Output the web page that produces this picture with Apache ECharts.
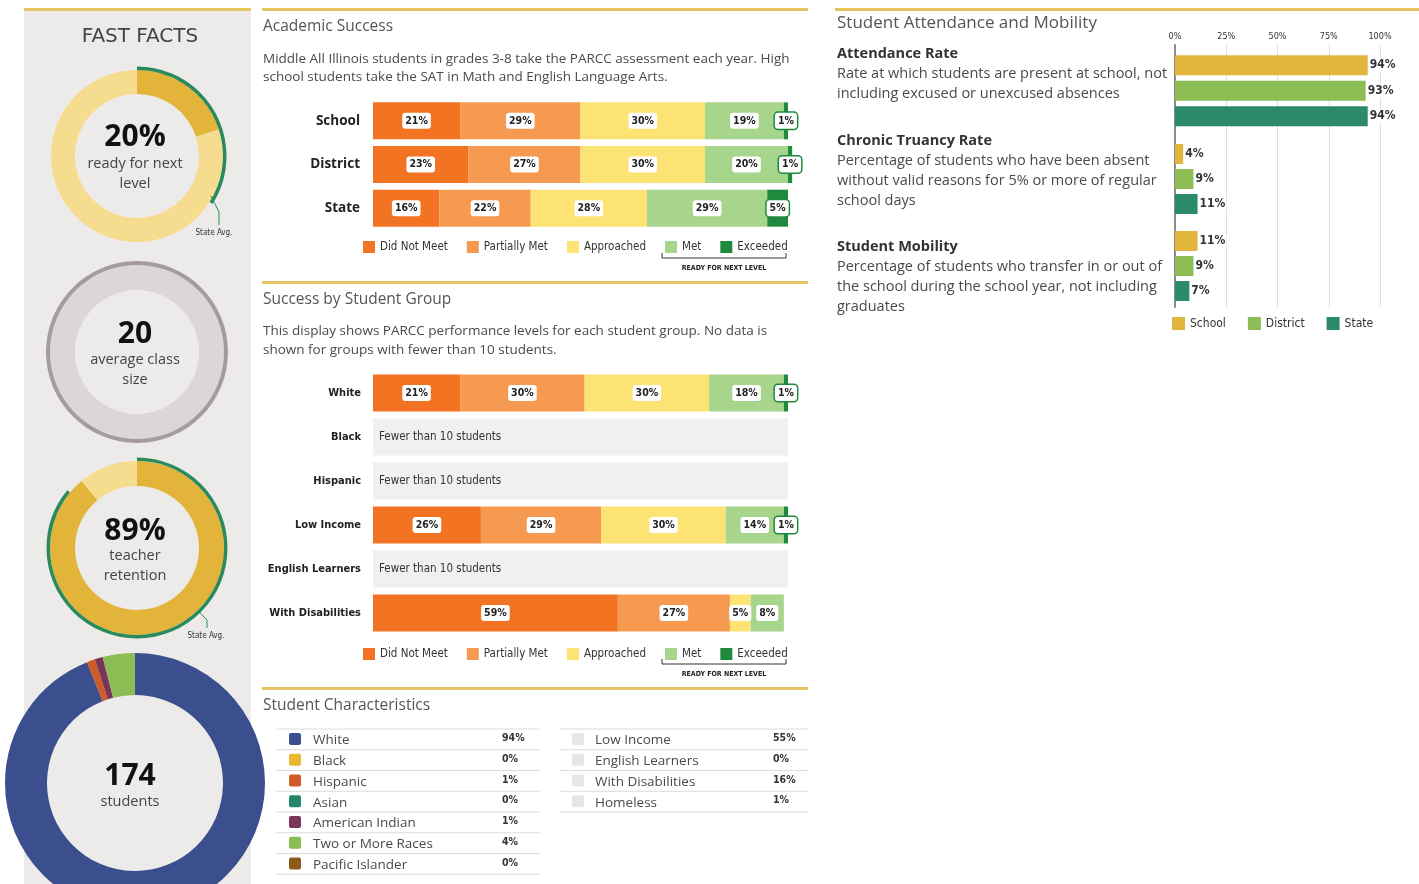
<!DOCTYPE html>
<html><head><meta charset="utf-8">
<script src="https://cdn.jsdelivr.net/npm/echarts@6/dist/echarts.min.js"></script>
<style>html,body{margin:0;padding:0;background:#fff}#c{width:1419px;height:884px}</style>
</head><body><div id="c"></div>
<script>
// ---------------- DATA ----------------
const levels = ['Did Not Meet', 'Partially Met', 'Approached', 'Met', 'Exceeded'];

const academicRows = ['School', 'District', 'State'];
const acDidNotMeet  = [21, 23, 16];
const acPartiallyMet = [29, 27, 22];
const acApproached  = [30, 30, 28];
const acMet         = [19, 20, 29];
const acExceeded    = [1, 1, 5];

const groupRows = ['White', 'Black', 'Hispanic', 'Low Income', 'English Learners', 'With Disabilities'];
const groupFewerThan10 = [false, true, true, false, true, false];
const grDidNotMeet   = [21, null, null, 26, null, 59];
const grPartiallyMet = [30, null, null, 29, null, 27];
const grApproached   = [30, null, null, 30, null, 5];
const grMet          = [18, null, null, 14, null, 8];
const grExceeded     = [1, null, null, 1, null, 0];

const raceNames = ['White', 'Black', 'Hispanic', 'Asian', 'American Indian', 'Two or More Races', 'Pacific Islander'];
const racePct   = [94, 0, 1, 0, 1, 4, 0];
const otherNames = ['Low Income', 'English Learners', 'With Disabilities', 'Homeless'];
const otherPct   = [55, 0, 16, 1];

const readyPct = 20;
const readyStateAvg = 34;
const classSize = 20;
const retentionPct = 89;
const retentionStateAvg = 86;
const totalStudents = 174;

const attMetrics = ['Attendance Rate', 'Chronic Truancy Rate', 'Student Mobility'];
const attEntities = ['School', 'District', 'State'];
const attSchool   = [94, 4, 11];
const attDistrict = [93, 9, 9];
const attState    = [94, 11, 7];
const attTicks = [0, 25, 50, 75, 100];

// ---------------- STYLE ----------------
const NARROW = "'Liberation Sans Narrow','DejaVu Sans Condensed',sans-serif";
const SANS = "'Open Sans',sans-serif";
const GOLD = '#e5c35e';
const levelColors = ['#f27423', '#f59a50', '#fde274', '#a7d58c', '#1f8a3e'];
const raceColors = ['#3b4f8e', '#e8b92f', '#cf5b26', '#22876b', '#7b3558', '#8bbd55', '#8a5a1a'];
const attColors = ['#e2b53d', '#8dbd55', '#2a8a69'];
const TXT = '#4a4a4a';

const acData = [acDidNotMeet, acPartiallyMet, acApproached, acMet, acExceeded];
const grData = [grDidNotMeet, grPartiallyMet, grApproached, grMet, grExceeded];
const attValues = [attSchool, attDistrict, attState];

function levelLabel(i) {
  const l = {show: true, position: 'inside', formatter: p => p.value + '%', fontFamily: NARROW, fontWeight: 'bold',
    fontSize: 10.5, color: '#222', backgroundColor: '#fff', borderRadius: 3, padding: [3, 3, 2, 3]};
  if (i === 4) { l.borderColor = '#1f8a3e'; l.borderWidth = 1.5; }
  return l;
}
function toItems(arr) {
  return arr.map(v => v === 0 ? {value: 0, label: {show: false}} : (v == null ? '-' : v));
}

const series = [];
levels.forEach((name, i) => {
  series.push({type: 'bar', name, stack: 'ac', xAxisIndex: 0, yAxisIndex: 0, barWidth: 37, clip: false, silent: true,
    itemStyle: {color: levelColors[i]}, label: levelLabel(i), data: toItems(acData[i])});
});
series.push({type: 'bar', name: 'No data', stack: 'gr', xAxisIndex: 1, yAxisIndex: 1, barWidth: 37, silent: true,
  itemStyle: {color: '#f1f0f0'},
  label: {show: true, position: 'insideLeft', distance: 6, formatter: 'Fewer than 10 students', fontFamily: NARROW, fontSize: 11.5, color: '#333'},
  data: groupFewerThan10.map(f => f ? 100 : '-')});
levels.forEach((name, i) => {
  series.push({type: 'bar', name, stack: 'gr', xAxisIndex: 1, yAxisIndex: 1, barWidth: 37, clip: false, silent: true,
    itemStyle: {color: levelColors[i]}, label: levelLabel(i), data: toItems(grData[i])});
});
for (let g = 0; g < 3; g++) {
  attEntities.forEach((name, e) => {
    series.push({type: 'bar', name, stack: 'att' + g, xAxisIndex: 3 + g, yAxisIndex: 3 + g, barWidth: 20, silent: true,
      itemStyle: {color: attColors[e]},
      label: {show: true, position: 'right', distance: 1, formatter: '{c}%', fontFamily: NARROW, fontWeight: 'bold', fontSize: 12, color: '#333', backgroundColor: '#fff', padding: [1, 1]},
      data: attEntities.map((_, k) => k === e ? attValues[e][g] : '-')});
  });
}

// pies
const pieBase = {type: 'pie', silent: true, startAngle: 90, label: {show: false}, labelLine: {show: false}, emphasis: {disabled: true}};
series.push(Object.assign({}, pieBase, {center: [137, 156], radius: [62, 86],
  data: [{name: 'Ready', value: readyPct, itemStyle: {color: '#e2b43a'}}, {name: 'Not ready', value: 100 - readyPct, itemStyle: {color: '#f6dc8e'}}]}));
series.push(Object.assign({}, pieBase, {center: [137, 156], radius: [86, 89.5],
  data: [{name: 'State Avg', value: readyStateAvg, itemStyle: {color: '#2a8a5c'}}, {name: 'rest', value: 100 - readyStateAvg, itemStyle: {color: 'rgba(0,0,0,0)'}}]}));
series.push(Object.assign({}, pieBase, {center: [137, 352], radius: [62, 87],
  data: [{name: 'Class size', value: classSize, itemStyle: {color: '#dcd7d6'}}]}));
series.push(Object.assign({}, pieBase, {center: [137, 352], radius: [87, 91],
  data: [{name: 'Class size ring', value: classSize, itemStyle: {color: '#a59b9e'}}]}));
series.push(Object.assign({}, pieBase, {center: [137, 548], radius: [62, 87],
  data: [{name: 'Retained', value: retentionPct, itemStyle: {color: '#e2b43a'}}, {name: 'Not retained', value: 100 - retentionPct, itemStyle: {color: '#f6dc8e'}}]}));
series.push(Object.assign({}, pieBase, {center: [137, 548], radius: [87, 90.5],
  data: [{name: 'State Avg 2', value: retentionStateAvg, itemStyle: {color: '#2a8a5c'}}, {name: 'rest2', value: 100 - retentionStateAvg, itemStyle: {color: 'rgba(0,0,0,0)'}}]}));
series.push(Object.assign({}, pieBase, {center: [135, 783], radius: [88, 130],
  data: raceNames.map((n, i) => ({name: n, value: racePct[i], itemStyle: {color: raceColors[i]}}))}));

// graphics
const G = [];
G.push({type: 'rect', shape: {x: 24, y: 11, width: 227, height: 873}, style: {fill: '#edebea'}, z: -10});
G.push({type: 'rect', shape: {x: 24, y: 8, width: 227, height: 3}, style: {fill: GOLD}, z: -5});
G.push({type: 'rect', shape: {x: 262, y: 8, width: 546, height: 3}, style: {fill: GOLD}});
G.push({type: 'rect', shape: {x: 262, y: 281, width: 546, height: 3}, style: {fill: GOLD}});
G.push({type: 'rect', shape: {x: 262, y: 687, width: 546, height: 3}, style: {fill: GOLD}});
G.push({type: 'rect', shape: {x: 835, y: 8, width: 584, height: 3}, style: {fill: GOLD}});

function txt(x, y, text, o) {
  return {type: 'text', x, y, z: 100, style: Object.assign({text, fill: TXT, font: '13px ' + SANS, verticalAlign: 'middle', align: 'left'}, o || {})};
}
// fast facts
G.push(txt(140, 37, 'FAST FACTS', {align: 'center', font: '20px ' + "'DejaVu Sans',sans-serif", fill: '#444'}));
G.push(txt(135, 137, readyPct + '%', {align: 'center', font: 'bold 30px ' + SANS, fill: '#111'}));
G.push(txt(135, 154, 'ready for next\nlevel', {align: 'center', verticalAlign: 'top', font: '14.5px ' + SANS, lineHeight: 20, fill: '#444'}));
G.push(txt(135, 334, String(classSize), {align: 'center', font: 'bold 30px ' + SANS, fill: '#111'}));
G.push(txt(135, 350, 'average class\nsize', {align: 'center', verticalAlign: 'top', font: '14.5px ' + SANS, lineHeight: 20, fill: '#444'}));
G.push(txt(135, 531, retentionPct + '%', {align: 'center', font: 'bold 30px ' + SANS, fill: '#111'}));
G.push(txt(135, 546, 'teacher\nretention', {align: 'center', verticalAlign: 'top', font: '14.5px ' + SANS, lineHeight: 20, fill: '#444'}));
G.push(txt(130, 776, String(totalStudents), {align: 'center', font: 'bold 30px ' + SANS, fill: '#111'}));
G.push(txt(130, 802, 'students', {align: 'center', font: '14.5px ' + SANS, fill: '#444'}));
G.push({type: 'polyline', z: 100, shape: {points: [[211, 196], [219, 212], [219, 225]]}, style: {stroke: '#2a8a5c', lineWidth: 1, fill: null}});
G.push(txt(214, 233, 'State Avg.', {align: 'center', font: '8px ' + NARROW, fill: '#333'}));
G.push({type: 'polyline', z: 100, shape: {points: [[199, 612], [207, 620], [207, 628]]}, style: {stroke: '#2a8a5c', lineWidth: 1, fill: null}});
G.push(txt(206, 636, 'State Avg.', {align: 'center', font: '8px ' + NARROW, fill: '#333'}));

// middle column texts
G.push(txt(263, 27, 'Academic Success', {font: '15.5px ' + SANS, fill: '#555'}));
G.push(txt(263, 49.5, 'Middle All Illinois students in grades 3-8 take the PARCC assessment each year. High\nschool students take the SAT in Math and English Language Arts.', {verticalAlign: 'top', font: '13.5px ' + SANS, lineHeight: 18.5}));
G.push(txt(263, 300, 'Success by Student Group', {font: '15.5px ' + SANS, fill: '#555'}));
G.push(txt(263, 322, 'This display shows PARCC performance levels for each student group. No data is\nshown for groups with fewer than 10 students.', {verticalAlign: 'top', font: '13.5px ' + SANS, lineHeight: 19}));
G.push(txt(263, 706, 'Student Characteristics', {font: '15.5px ' + SANS, fill: '#555'}));
[[253, 268], [659, 674]].forEach(([by, ty]) => {
  G.push({type: 'polyline', z: 100, shape: {points: [[662, by], [662, by + 5], [786, by + 5], [786, by]]}, style: {stroke: '#333', lineWidth: 1, fill: null}});
  G.push(txt(724, ty, 'READY FOR NEXT LEVEL', {align: 'center', font: 'bold 7px ' + NARROW, fill: '#222'}));
});

// tables
const rowH = 20.75;
for (let i = 0; i <= raceNames.length; i++) {
  G.push({type: 'line', z: 50, shape: {x1: 276, y1: 729 + i * rowH, x2: 540, y2: 729 + i * rowH}, style: {stroke: '#dcdcdc', lineWidth: 1}});
}
raceNames.forEach((n, i) => {
  const cy = 739.5 + i * rowH;
  G.push({type: 'rect', z: 60, shape: {x: 289, y: cy - 6.5, width: 12, height: 12, r: 2}, style: {fill: raceColors[i]}});
  G.push(txt(313, cy + 1, n, {font: '13.5px ' + SANS}));
  G.push(txt(502, cy - 1, racePct[i] + '%', {font: 'bold 10.5px ' + NARROW, fill: '#333'}));
});
for (let i = 0; i <= otherNames.length; i++) {
  G.push({type: 'line', z: 50, shape: {x1: 560, y1: 729 + i * rowH, x2: 808, y2: 729 + i * rowH}, style: {stroke: '#dcdcdc', lineWidth: 1}});
}
otherNames.forEach((n, i) => {
  const cy = 739.5 + i * rowH;
  G.push({type: 'rect', z: 60, shape: {x: 572, y: cy - 6.5, width: 12, height: 12, r: 2}, style: {fill: '#e6e6e6'}});
  G.push(txt(595, cy + 1, n, {font: '13.5px ' + SANS}));
  G.push(txt(773, cy - 1, otherPct[i] + '%', {font: 'bold 10.5px ' + NARROW, fill: '#333'}));
});

// attendance texts
G.push(txt(837, 23, 'Student Attendance and Mobility', {font: '17px ' + SANS, fill: '#555'}));
const attDesc = [
  'Rate at which students are present at school, not\nincluding excused or unexcused absences',
  'Percentage of students who have been absent\nwithout valid reasons for 5% or more of regular\nschool days',
  'Percentage of students who transfer in or out of\nthe school during the school year, not including\ngraduates'
];
const attHeadY = [54, 141, 247];
attMetrics.forEach((m, i) => {
  G.push(txt(837, attHeadY[i], m, {font: 'bold 14.5px ' + SANS, fill: '#333'}));
  G.push(txt(837, attHeadY[i] + 10, attDesc[i], {verticalAlign: 'top', font: '14.5px ' + SANS, lineHeight: 19.8}));
});

const hidden = {show: false};
const legendText = {fontFamily: NARROW, fontSize: 11.5, color: '#333'};
const option = {
  animation: false,
  backgroundColor: '#fff',
  grid: [
    {left: 373, width: 415, top: 99, height: 131},
    {left: 373, width: 415, top: 371, height: 264},
    {left: 1175, width: 205, top: 45, height: 262},
    {left: 1175, width: 205, top: 52.5, height: 76.5},
    {left: 1175, width: 205, top: 141.5, height: 75},
    {left: 1175, width: 205, top: 228.5, height: 75}
  ],
  xAxis: [
    {gridIndex: 0, type: 'value', min: 0, max: 100, show: false},
    {gridIndex: 1, type: 'value', min: 0, max: 100, show: false},
    {gridIndex: 2, type: 'value', min: attTicks[0], max: attTicks[attTicks.length - 1], interval: attTicks[1] - attTicks[0], position: 'top',
      axisLine: hidden, axisTick: hidden,
      axisLabel: {formatter: '{value}%', fontFamily: NARROW, fontSize: 9, color: '#333', margin: 4},
      splitLine: {show: true, lineStyle: {color: '#dedede', width: 1}}},
    {gridIndex: 3, type: 'value', min: 0, max: 100, show: false},
    {gridIndex: 4, type: 'value', min: 0, max: 100, show: false},
    {gridIndex: 5, type: 'value', min: 0, max: 100, show: false}
  ],
  yAxis: [
    {gridIndex: 0, type: 'category', data: academicRows, inverse: true, axisLine: hidden, axisTick: hidden,
      axisLabel: {fontFamily: SANS, fontWeight: 'bold', fontSize: 13.5, color: '#222', margin: 13}},
    {gridIndex: 1, type: 'category', data: groupRows, inverse: true, axisLine: hidden, axisTick: hidden,
      axisLabel: {fontFamily: NARROW, fontWeight: 'bold', fontSize: 11, color: '#222', margin: 12}},
    {gridIndex: 2, type: 'category', data: [''], axisLabel: hidden, axisTick: hidden,
      axisLine: {show: true, lineStyle: {color: '#8c8c8c', width: 2}}},
    {gridIndex: 3, type: 'category', data: attEntities, inverse: true, show: false},
    {gridIndex: 4, type: 'category', data: attEntities, inverse: true, show: false},
    {gridIndex: 5, type: 'category', data: attEntities, inverse: true, show: false}
  ],
  legend: [
    {data: levels, left: 363, top: 241, padding: 0, icon: 'rect', itemWidth: 12, itemHeight: 12, itemGap: 19, selectedMode: false, textStyle: legendText},
    {data: levels, left: 363, top: 648, padding: 0, icon: 'rect', itemWidth: 12, itemHeight: 12, itemGap: 19, selectedMode: false, textStyle: legendText},
    {data: attEntities, left: 1172, top: 317, padding: 0, icon: 'rect', itemWidth: 13, itemHeight: 13, itemGap: 22, selectedMode: false,
      textStyle: {fontFamily: NARROW, fontSize: 12, color: '#333'}}
  ],
  series,
  graphic: G
};
const chart = echarts.init(document.getElementById('c'));
chart.setOption(option);
</script></body></html>
